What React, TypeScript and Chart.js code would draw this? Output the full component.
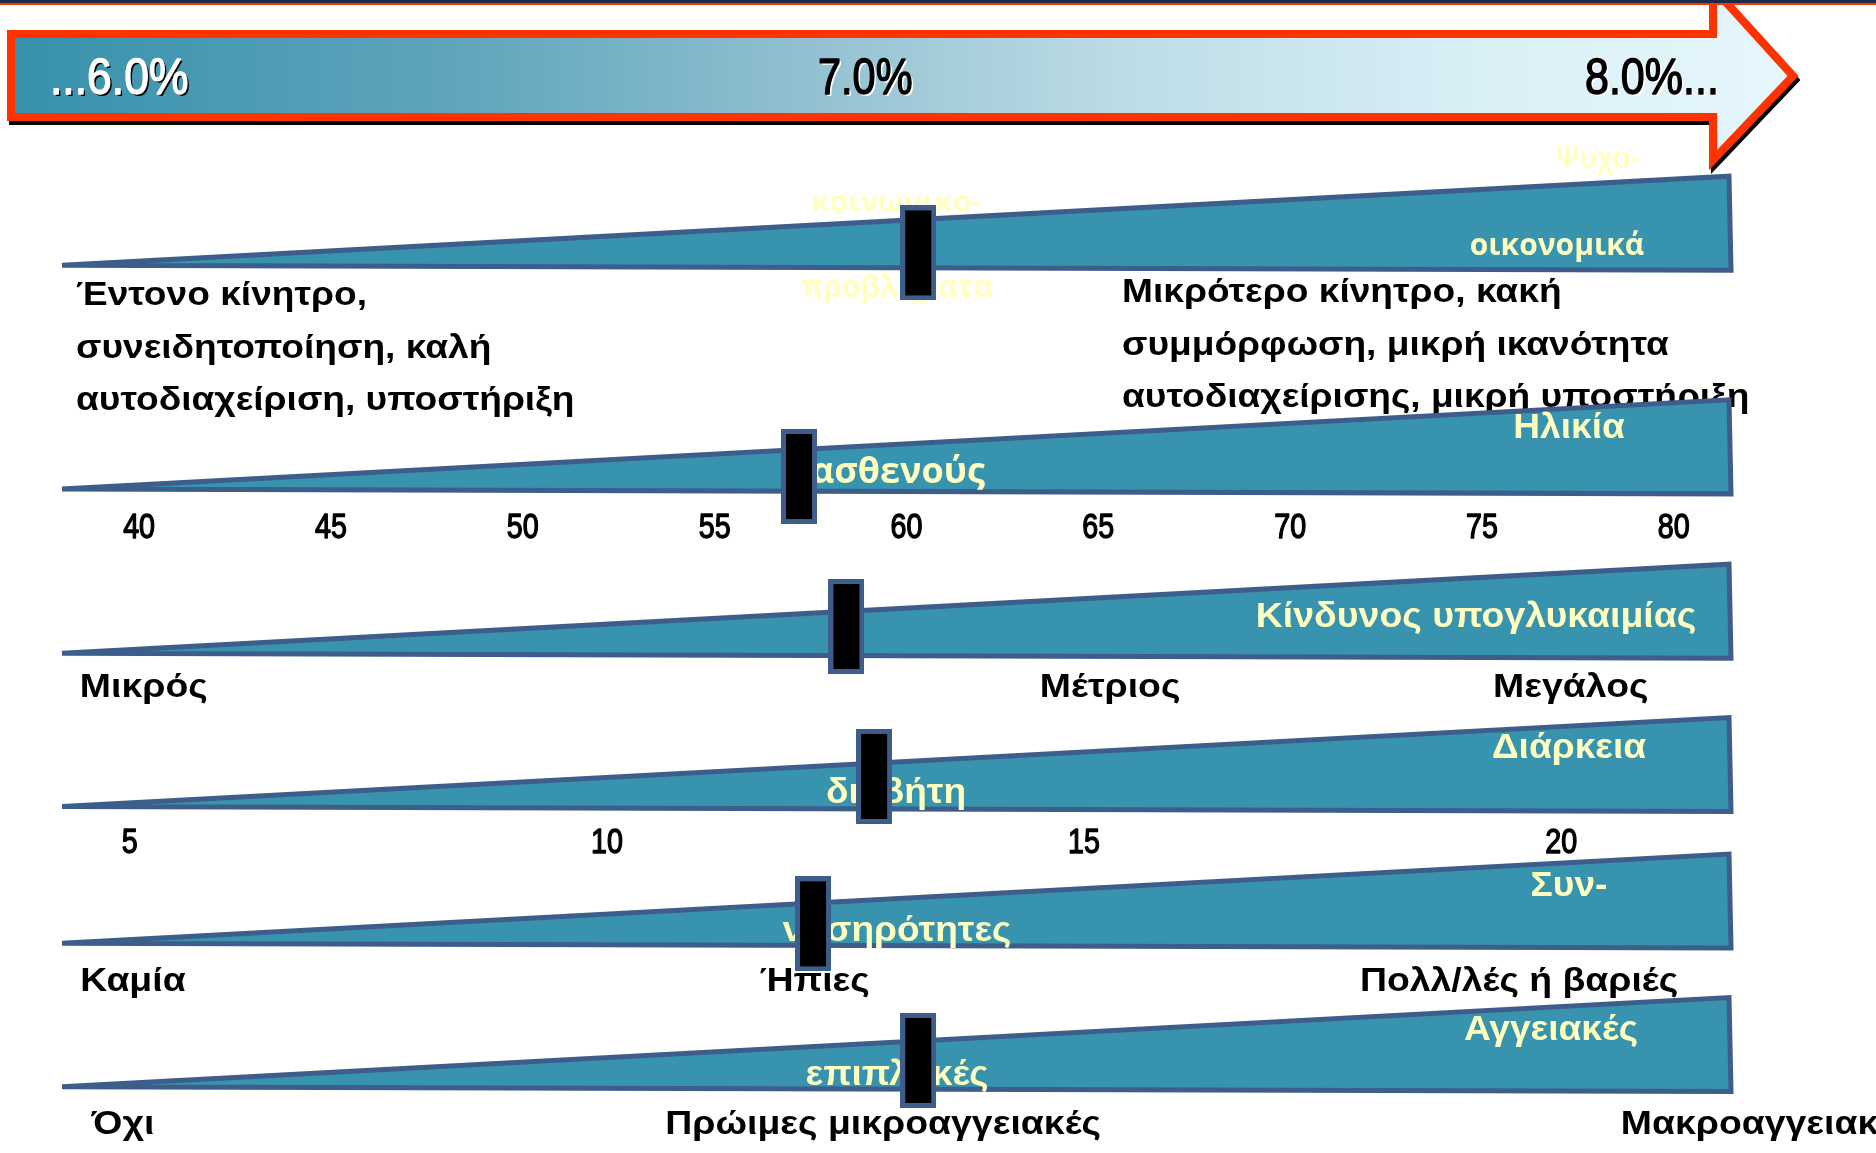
import React, { useEffect, useRef } from 'react';
import { Chart, registerables } from 'chart.js';

Chart.register(...registerables);

// ---------- data ----------
// HbA1c targets along the arrow
const TARGET_LABELS = ['...6.0%', '7.0%', '8.0%...'];

// Wedge captions (yellow text), split the way they wrap on the slide
const CAPTIONS = [
  ['Ψυχο-', 'κοινωνικο-', 'προβλήματα', 'οικονομικά'],
  ['Ηλικία', 'ασθενούς'],
  ['Κίνδυνος υπογλυκαιμίας'],
  ['Διάρκεια', 'διαβήτη'],
  ['Συν-', 'νοσηρότητες'],
  ['Αγγειακές', 'επιπλοκές'],
];

const LEFT_NOTE = ['Έντονο κίνητρο,', 'συνειδητοποίηση, καλή', 'αυτοδιαχείριση, υποστήριξη'];
const RIGHT_NOTE = ['Μικρότερο κίνητρο, κακή', 'συμμόρφωση, μικρή ικανότητα', 'αυτοδιαχείρισης, μικρή υποστήριξη'];

// Row 1: psychosocial problems, position along the wedge (0-100)
const PSYCHOSOCIAL_POS = [51.3];
// Row 2: patient age (years)
const AGE_TICKS = [40, 45, 50, 55, 60, 65, 70, 75, 80];
const AGE_RANGE = [37.99, 81.49];
const AGE_VALUE = [57.2];
// Row 3: hypoglycaemia risk
const HYPO_LABELS = ['Μικρός', 'Μέτριος', 'Μεγάλος'];
const HYPO_POINTS = [4.9, 62.8, 90.4];
const HYPO_VALUE = [47.0];
// Row 4: diabetes duration (years)
const DURATION_TICKS = [5, 10, 15, 20];
const DURATION_RANGE = [4.29, 21.78];
const DURATION_VALUE = [12.8];
// Row 5: comorbidities
const COMORB_LABELS = ['Καμία', 'Ήπιες', 'Πολλ/λές ή βαριές'];
const COMORB_POINTS = [4.25, 45.1, 87.3];
const COMORB_VALUE = [45.0];
// Row 6: vascular complications
const COMPL_LABELS = ['Όχι', 'Πρώιμες μικροαγγειακές', 'Μακροαγγειακές'];
const COMPL_POINTS = [3.65, 49.2, 102.2];
const COMPL_VALUE = [51.3];

// ---------- layout ----------
const W = 1876;
const H = 1153;
const ROW_BASE_Y = [262, 488, 654, 809, 947, 1092];
const MARKER_Y = [249.5, 475.5, 627, 778.5, 927.5, 1065.5];
const WEDGE_RISE = 90;
const WEDGE_DROP = 5;

const CAPTION_POS: number[][][] = [
  [[1598, 168], [896, 212], [897, 297], [1557, 255]],
  [[1569, 438], [898, 483]],
  [[1476, 627]],
  [[1569, 758], [896, 803]],
  [[1569, 896], [897, 941]],
  [[1551, 1040], [897, 1085]],
];
const SANS = '"Liberation Sans", Arial, sans-serif';
const OPEN = '"Open Sans", sans-serif';
const CAPTION_FONT: string[][] = [
  [`bold 31px ${SANS}`, `bold 30px ${OPEN}`, `bold 30px ${OPEN}`, `bold 30px ${OPEN}`],
  [`bold 35px ${SANS}`, `bold 36px ${OPEN}`],
  [`bold 35px ${SANS}`],
  [`bold 35px ${SANS}`, `bold 35px ${SANS}`],
  [`bold 35px ${SANS}`, `bold 35px ${SANS}`],
  [`bold 35px ${SANS}`, `bold 35px ${SANS}`],
];
const CAPTION_STRETCH: number[][] = [
  [0.95, 1, 1, 1],
  [1.06, 1],
  [1.07],
  [1.06, 1.06],
  [1.06, 1.06],
  [1.06, 1.06],
];

// axes whose tick labels are written under a wedge
const LABELLED_AXES = [
  { id: 'age', row: 1, font: `35px ${SANS}`, stretch: 0.82, drop: 50, weight: 1.4 },
  { id: 'hypo', row: 2, font: `bold 34px ${SANS}`, stretch: 1.1, drop: 44, weight: 0 },
  { id: 'dur', row: 3, font: `35px ${SANS}`, stretch: 0.82, drop: 47, weight: 1.4 },
  { id: 'comorb', row: 4, font: `bold 34px ${SANS}`, stretch: 1.1, drop: 48, weight: 0 },
  { id: 'compl', row: 5, font: `bold 34px ${SANS}`, stretch: 1.1, drop: 48, weight: 0 },
];

const TEAL = '#3894ae';
const NAVY = '#3d5d8a';
const CREAM = '#ffffc0';
const ORANGE = '#ff3300';

function stretchText(
  ctx: CanvasRenderingContext2D,
  text: string,
  x: number,
  y: number,
  font: string,
  sx: number,
  align: CanvasTextAlign,
  weight = 0,
) {
  ctx.save();
  ctx.font = font;
  ctx.textAlign = align;
  ctx.textBaseline = 'alphabetic';
  ctx.translate(x, y);
  ctx.scale(sx, 1);
  ctx.fillText(text, 0, 0);
  if (weight > 0) {
    ctx.shadowColor = 'transparent';
    ctx.lineWidth = weight;
    ctx.strokeStyle = ctx.fillStyle;
    ctx.lineJoin = 'round';
    ctx.strokeText(text, 0, 0);
  }
  ctx.restore();
}

function makeMarker(): HTMLCanvasElement {
  const c = document.createElement('canvas');
  c.width = 36;
  c.height = 95;
  const g = c.getContext('2d')!;
  g.fillStyle = NAVY;
  g.fillRect(0, 0, 36, 95);
  g.fillStyle = '#000';
  g.fillRect(5, 5, 26, 85);
  return c;
}

function drawArrow(ctx: CanvasRenderingContext2D) {
  const left = 11, top = 34, bottom = 117, neck = 1713;
  const headTop = -12, headBottom = 160, tipX = 1793, tipY = 76;
  const path = () => {
    ctx.beginPath();
    ctx.moveTo(left, top);
    ctx.lineTo(neck, top);
    ctx.lineTo(neck, headTop);
    ctx.lineTo(tipX, tipY);
    ctx.lineTo(neck, headBottom);
    ctx.lineTo(neck, bottom);
    ctx.lineTo(left, bottom);
    ctx.closePath();
  };
  ctx.save();
  ctx.lineJoin = 'miter';
  ctx.lineWidth = 8;
  ctx.strokeStyle = ORANGE;
  ctx.shadowColor = '#000';
  ctx.shadowOffsetX = 2;
  ctx.shadowOffsetY = 4;
  ctx.shadowBlur = 0;
  path();
  ctx.stroke();
  ctx.restore();

  ctx.save();
  const grad = ctx.createLinearGradient(left, 0, tipX, 0);
  grad.addColorStop(0, '#3791ab');
  grad.addColorStop(0.25, '#5fa5bc');
  grad.addColorStop(0.45, '#93c1d1');
  grad.addColorStop(0.62, '#bcdce6');
  grad.addColorStop(0.82, '#d9eff6');
  grad.addColorStop(1, '#e6f7fc');
  path();
  ctx.fillStyle = grad;
  ctx.fill();
  ctx.lineJoin = 'miter';
  ctx.lineWidth = 8;
  ctx.strokeStyle = ORANGE;
  ctx.stroke();
  ctx.restore();

  // page rule along the top edge
  ctx.fillStyle = '#1d2a48';
  ctx.fillRect(0, 0, W, 3);
  ctx.fillStyle = ORANGE;
  ctx.fillRect(0, 3, W, 2);

  // target percentages
  const xs = [50, 818, 1585];
  const sx = [0.89, 0.83, 0.86];
  TARGET_LABELS.forEach((t, i) => {
    ctx.save();
    ctx.shadowOffsetX = 2;
    ctx.shadowOffsetY = 2;
    ctx.shadowBlur = 0;
    ctx.shadowColor = i === 0 ? '#000' : '#fff';
    ctx.fillStyle = i === 0 ? '#fff' : '#000';
    stretchText(ctx, t, xs[i], 94, `50px ${SANS}`, sx[i], 'left', 1.4);
    ctx.restore();
  });
}

const backdrop = {
  id: 'backdrop',
  beforeDraw(chart: any) {
    const ctx: CanvasRenderingContext2D = chart.ctx;
    const xs = chart.scales.x;
    const ys = chart.scales.y;
    ctx.save();
    ctx.fillStyle = '#fff';
    ctx.fillRect(0, 0, chart.width, chart.height);

    drawArrow(ctx);

    // descriptive notes under the first wedge
    ctx.fillStyle = '#000';
    const noteFont = `bold 33px ${SANS}`;
    LEFT_NOTE.forEach((t, i) => stretchText(ctx, t, 76, 305 + i * 52.5, noteFont, 1.125, 'left'));
    RIGHT_NOTE.forEach((t, i) => stretchText(ctx, t, 1122, 302 + i * 52.5, noteFont, 1.125, 'left'));

    // wedges
    const x0 = xs.getPixelForValue(0);
    const x1 = xs.getPixelForValue(100);
    ROW_BASE_Y.forEach((b) => {
      ctx.beginPath();
      ctx.moveTo(x0, ys.getPixelForValue(b));
      ctx.lineTo(x1 - 2, ys.getPixelForValue(b - WEDGE_RISE));
      ctx.lineTo(x1, ys.getPixelForValue(b + WEDGE_DROP));
      ctx.closePath();
      ctx.fillStyle = TEAL;
      ctx.fill();
      ctx.lineJoin = 'miter';
      ctx.miterLimit = 4;
      ctx.lineWidth = 5;
      ctx.strokeStyle = NAVY;
      ctx.stroke();
    });

    // captions
    ctx.fillStyle = CREAM;
    CAPTIONS.forEach((row, r) => {
      row.forEach((t, k) => {
        const [px, py] = CAPTION_POS[r][k];
        stretchText(ctx, t, px, py, CAPTION_FONT[r][k], CAPTION_STRETCH[r][k], 'center');
      });
    });
    ctx.restore();
  },
};

// writes each axis' tick labels under its wedge, at the axis' own tick pixels
const tickWriter = {
  id: 'tickWriter',
  beforeDatasetsDraw(chart: any) {
    const ctx: CanvasRenderingContext2D = chart.ctx;
    const ys = chart.scales.y;
    ctx.save();
    ctx.fillStyle = '#000';
    LABELLED_AXES.forEach((a) => {
      const scale = chart.scales[a.id];
      const y = ys.getPixelForValue(ROW_BASE_Y[a.row] + a.drop);
      scale.ticks.forEach((tick: any, i: number) => {
        stretchText(ctx, String(tick.label), scale.getPixelForTick(i), y, a.font, a.stretch, 'center', a.weight);
      });
    });
    ctx.restore();
  },
};

function rowAxis(range: number[], values?: number[], labels?: (string | number)[]) {
  return {
    type: 'linear',
    axis: 'x',
    display: false,
    min: range[0],
    max: range[1],
    grid: { display: false, drawTicks: false },
    border: { display: false },
    afterBuildTicks: (axis: any) => {
      if (values) axis.ticks = values.map((v) => ({ value: v }));
    },
    afterFit: (axis: any) => {
      axis.paddingLeft = 0;
      axis.paddingRight = 0;
    },
    ticks: {
      display: false,
      autoSkip: false,
      maxRotation: 0,
      minRotation: 0,
      callback: (v: any, i: number) => (labels ? String(labels[i]) : String(v)),
    },
  };
}

export default function App() {
  const ref = useRef<HTMLCanvasElement>(null);

  useEffect(() => {
    const canvas = ref.current;
    if (!canvas) return;
    const marker = makeMarker();

    const point = (axisID: string, values: number[], row: number) => ({
      type: 'scatter',
      xAxisID: axisID,
      yAxisID: 'y',
      data: values.map((v) => ({ x: v, y: MARKER_Y[row] })),
      pointStyle: marker,
      pointRadius: 5,
      showLine: false,
    });

    const chart = new Chart(canvas, {
      type: 'scatter',
      data: {
        datasets: [
          point('x', PSYCHOSOCIAL_POS, 0),
          point('age', AGE_VALUE, 1),
          point('hypo', HYPO_VALUE, 2),
          point('dur', DURATION_VALUE, 3),
          point('comorb', COMORB_VALUE, 4),
          point('compl', COMPL_VALUE, 5),
        ] as any,
      },
      options: {
        animation: false,
        responsive: false,
        devicePixelRatio: 1,
        events: [],
        layout: { padding: { left: 62, right: W - 1731, top: 0, bottom: 0 } },
        plugins: { legend: { display: false }, tooltip: { enabled: false } },
        scales: {
          x: rowAxis([0, 100]),
          y: { type: 'linear', min: 0, max: H, reverse: true, display: false },
          age: rowAxis(AGE_RANGE, AGE_TICKS, AGE_TICKS),
          hypo: rowAxis([0, 100], HYPO_POINTS, HYPO_LABELS),
          dur: rowAxis(DURATION_RANGE, DURATION_TICKS, DURATION_TICKS),
          comorb: rowAxis([0, 100], COMORB_POINTS, COMORB_LABELS),
          compl: rowAxis([0, 100], COMPL_POINTS, COMPL_LABELS),
        } as any,
      },
      plugins: [backdrop, tickWriter],
    } as any);

    return () => chart.destroy();
  }, []);

  return (
    <div style={{ position: 'fixed', left: 0, top: 0, width: W, height: H, background: '#fff' }}>
      <canvas ref={ref} width={W} height={H} style={{ display: 'block' }} />
    </div>
  );
}
